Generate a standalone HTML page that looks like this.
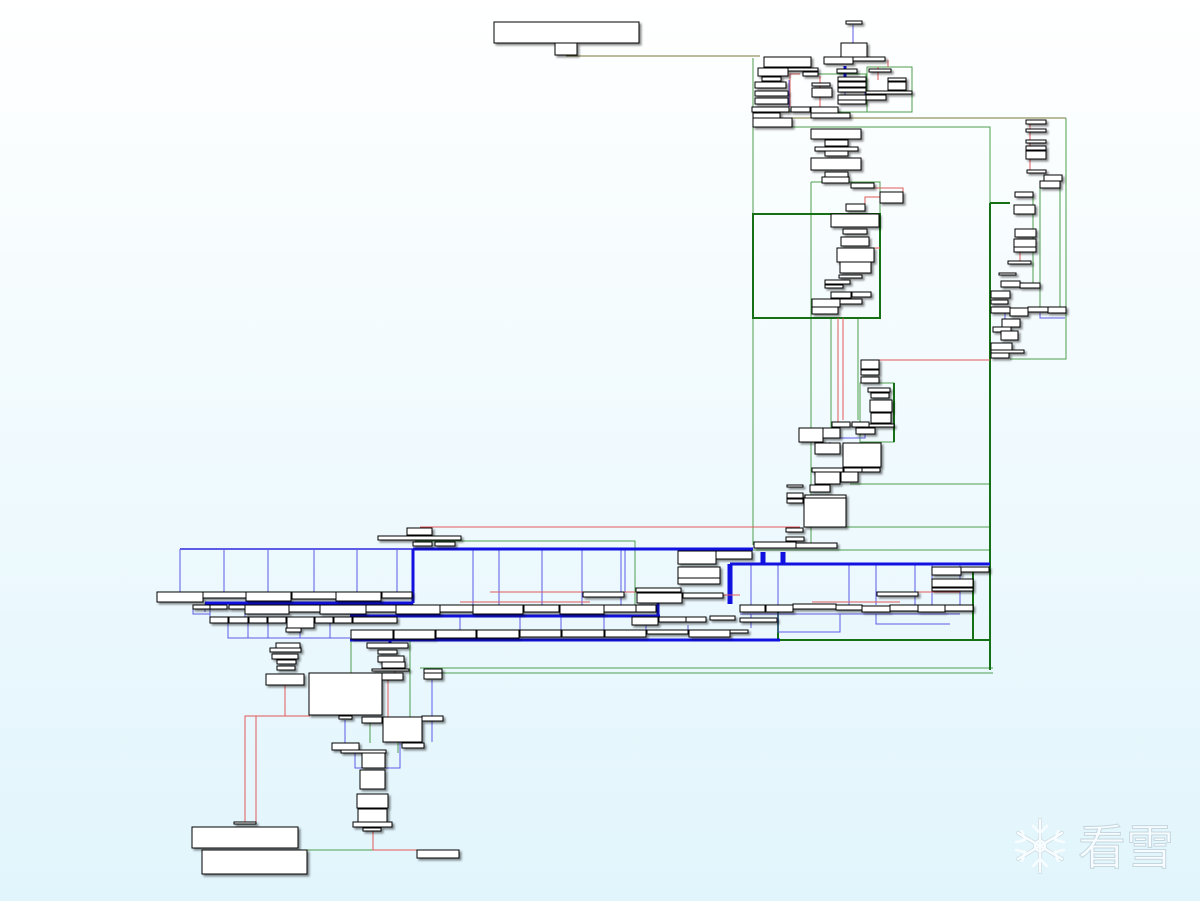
<!DOCTYPE html>
<html><head><meta charset="utf-8">
<style>
html,body{margin:0;padding:0;}
body{width:1200px;height:901px;overflow:hidden;background:linear-gradient(180deg,#ffffff 0%,#f3fbfe 40%,#e1f5fc 100%);}
svg{position:absolute;left:0;top:0;}
.g{stroke:#4e9e4e;stroke-width:1;fill:none}
.dg{stroke:#167016;stroke-width:2;fill:none}
.bl{stroke:#5c5ce6;stroke-width:1;fill:none}
.bt{stroke:#1212e0;stroke-width:3;fill:none}
.r{stroke:#e25a5a;stroke-width:1;fill:none}
.o{stroke:#7a7a3a;stroke-width:1;fill:none}
.bx rect{fill:#fff;stroke:#000;stroke-width:1}
.wm{font-family:"Liberation Sans","Noto Sans CJK SC",sans-serif;font-size:48px;fill:#f6fcff;stroke:#c6d6de;stroke-width:1}
</style></head><body>
<svg width="1200" height="901" viewBox="0 0 1200 901" shape-rendering="crispEdges">
<g>
<path class="o" d="M566,56H760"/>
<path class="o" d="M753,118H1066"/>
<path class="g" d="M753,58V545"/>
<path class="g" d="M753,127H990V203"/>
<path class="g" d="M1066,118V359H1010"/>
<path class="g" d="M811,182H880V318"/>
<path class="g" d="M811,182V545"/>
<path class="g" d="M831,318V430M858,318V420"/>
<path class="g" d="M860,383H894V442H860Z"/>
<path class="g" d="M850,484H990M846,527H990M846,550H990M740,550H990"/>
<path class="g" d="M415,541H635V605"/>
<path class="g" d="M351,640V720M410,640V730M420,668H993M430,673H993"/>
<path class="g" d="M867,67H912V112H867ZM808,74H866V103M760,112H912"/>
<path class="g" d="M1040,181V307M1060,188V307M1033,197V283"/>
<path class="g" d="M307,850H373"/>
<path class="g" d="M370,720V743M398,742V753"/>
<path class="dg" d="M753,214H880V318H753Z"/>
<path class="dg" d="M990,203V670M990,203H1010"/>
<path class="dg" d="M778,640H990M973,567V640M778,605V640M894,383V442"/>
<path class="bl" d="M180,549H413" style="stroke-width:2"/>
<path class="bl" d="M180,549V592M224,549V592M268,549V592M314,549V592M357,549V592M397,549V592"/>
<path class="bl" d="M473,549V605M499,549V605M542,549V605M582,549V605M621,549V605M625,549V592"/>
<path class="bl" d="M751,565V605M778,565V605M849,565V605M876,565V605M915,565V605M932,565V605M960,565V605"/>
<path class="bl" d="M210,609V617M228,623V638H350M248,623V638M268,623V638M300,628V638M330,623V638"/>
<path class="bl" d="M193,609V614H210M740,614H960M751,614V628M778,614V632H840V614M876,614V624H950"/>
<path class="bl" d="M460,616V630M520,616V630M561,616V630M604,616V630M646,616V630M688,625V630"/>
<path class="bl" d="M789,80V110M845,77V104M865,77V104M853,25V43"/>
<path class="bl" d="M432,680V742M345,720V743M355,750V768H362M400,742V768H385"/>
<path class="bl" d="M1005,313V320M1040,313V318H1065"/>
<path class="bl" d="M830,442V448M865,432V438H840"/>
<path class="bl" d="M413,603V616M205,603V612M245,614V617"/>
<path class="bt" d="M413,549H753M413,549V603M205,603H413"/>
<path class="bt" d="M350,616H660M350,640H780M658,592V616"/>
<path class="bt" d="M730,564H990"/>
<path class="bt" d="M730,564V604" style="stroke-width:5"/>
<path class="bt" d="M763,552V565M783,552V565" style="stroke-width:5"/>
<path class="bt" d="M845,66V80M390,640V643"/>
<path class="r" d="M420,527H800"/>
<path class="r" d="M879,360H990"/>
<path class="r" d="M843,318V420M838,318V430"/>
<path class="r" d="M285,684V716H245V823M256,716V823M256,716H310"/>
<path class="r" d="M373,831V850H417"/>
<path class="r" d="M490,592H650M460,602H590M812,602H900M900,592H960M700,595H740"/>
<path class="r" d="M857,248H880M874,188H903V192M865,204V197H880"/>
<path class="r" d="M770,60V57M800,74H790V107M820,76V107M878,67V80M888,60V67M1030,124V170M1020,247V261"/>
<path class="r" d="M388,680V717M395,668V673"/>
</g>
<g class="bx" style="filter:drop-shadow(2px 2px 1px rgba(0,0,0,0.45))">
<rect x="494" y="22" width="145" height="21"/>
<rect x="555" y="43" width="22" height="12"/>
<rect x="846" y="21" width="16" height="3"/>
<rect x="841" y="43" width="26" height="14"/>
<rect x="764" y="57" width="47" height="10"/>
<rect x="824" y="57" width="29" height="7"/>
<rect x="853" y="57" width="32" height="4"/>
<rect x="758" y="68" width="30" height="8"/>
<rect x="788" y="68" width="30" height="3"/>
<rect x="803" y="72" width="15" height="4"/>
<rect x="837" y="69" width="20" height="4"/>
<rect x="869" y="69" width="22" height="3"/>
<rect x="762" y="77" width="19" height="4"/>
<rect x="755" y="82" width="31" height="6"/>
<rect x="755" y="91" width="33" height="5"/>
<rect x="755" y="98" width="33" height="6"/>
<rect x="752" y="107" width="37" height="5"/>
<rect x="753" y="113" width="27" height="5"/>
<rect x="753" y="118" width="39" height="9"/>
<rect x="838" y="77" width="28" height="4"/>
<rect x="838" y="82" width="28" height="5"/>
<rect x="838" y="88" width="28" height="4"/>
<rect x="838" y="95" width="28" height="5"/>
<rect x="838" y="100" width="28" height="4"/>
<rect x="812" y="83" width="18" height="3"/>
<rect x="812" y="88" width="20" height="9"/>
<rect x="791" y="107" width="19" height="5"/>
<rect x="811" y="107" width="27" height="6"/>
<rect x="811" y="113" width="39" height="5"/>
<rect x="888" y="78" width="18" height="3"/>
<rect x="888" y="82" width="18" height="8"/>
<rect x="866" y="91" width="46" height="3"/>
<rect x="866" y="95" width="20" height="5"/>
<rect x="811" y="129" width="50" height="10"/>
<rect x="825" y="140" width="23" height="6"/>
<rect x="815" y="147" width="43" height="4"/>
<rect x="825" y="151" width="23" height="5"/>
<rect x="811" y="158" width="50" height="12"/>
<rect x="825" y="172" width="23" height="5"/>
<rect x="822" y="177" width="27" height="6"/>
<rect x="851" y="183" width="23" height="5"/>
<rect x="880" y="192" width="23" height="11"/>
<rect x="846" y="204" width="19" height="7"/>
<rect x="831" y="214" width="48" height="13"/>
<rect x="843" y="229" width="24" height="5"/>
<rect x="841" y="237" width="28" height="9"/>
<rect x="837" y="248" width="37" height="14"/>
<rect x="840" y="262" width="31" height="11"/>
<rect x="839" y="275" width="23" height="3"/>
<rect x="825" y="280" width="25" height="4"/>
<rect x="825" y="285" width="18" height="3"/>
<rect x="831" y="292" width="20" height="6"/>
<rect x="852" y="292" width="19" height="5"/>
<rect x="812" y="299" width="28" height="8"/>
<rect x="840" y="299" width="22" height="5"/>
<rect x="812" y="307" width="26" height="7"/>
<rect x="1026" y="120" width="20" height="4"/>
<rect x="1026" y="129" width="20" height="3"/>
<rect x="1026" y="140" width="20" height="3"/>
<rect x="1026" y="146" width="20" height="4"/>
<rect x="1026" y="151" width="20" height="8"/>
<rect x="1027" y="170" width="19" height="3"/>
<rect x="1044" y="175" width="18" height="6"/>
<rect x="1040" y="181" width="20" height="7"/>
<rect x="1015" y="192" width="18" height="5"/>
<rect x="1014" y="205" width="21" height="9"/>
<rect x="1015" y="229" width="21" height="8"/>
<rect x="1014" y="239" width="22" height="8"/>
<rect x="1014" y="247" width="22" height="5"/>
<rect x="1008" y="261" width="23" height="3"/>
<rect x="999" y="273" width="17" height="2"/>
<rect x="1001" y="281" width="19" height="6"/>
<rect x="1020" y="283" width="20" height="5"/>
<rect x="991" y="291" width="19" height="7"/>
<rect x="991" y="300" width="17" height="4"/>
<rect x="991" y="307" width="19" height="6"/>
<rect x="1010" y="308" width="18" height="8"/>
<rect x="1028" y="307" width="20" height="5"/>
<rect x="1048" y="307" width="18" height="6"/>
<rect x="1002" y="319" width="18" height="8"/>
<rect x="993" y="327" width="18" height="5"/>
<rect x="1001" y="331" width="17" height="9"/>
<rect x="991" y="343" width="21" height="7"/>
<rect x="991" y="350" width="33" height="3"/>
<rect x="991" y="353" width="18" height="5"/>
<rect x="861" y="360" width="18" height="9"/>
<rect x="861" y="370" width="18" height="5"/>
<rect x="861" y="377" width="18" height="6"/>
<rect x="868" y="388" width="22" height="4"/>
<rect x="871" y="393" width="18" height="5"/>
<rect x="870" y="400" width="22" height="12"/>
<rect x="871" y="413" width="20" height="10"/>
<rect x="862" y="424" width="32" height="3"/>
<rect x="832" y="422" width="18" height="5"/>
<rect x="852" y="422" width="17" height="5"/>
<rect x="856" y="428" width="19" height="6"/>
<rect x="799" y="428" width="24" height="14"/>
<rect x="823" y="428" width="17" height="10"/>
<rect x="815" y="443" width="25" height="11"/>
<rect x="843" y="443" width="38" height="24"/>
<rect x="812" y="468" width="31" height="4"/>
<rect x="844" y="468" width="18" height="4"/>
<rect x="862" y="468" width="18" height="4"/>
<rect x="815" y="472" width="25" height="12"/>
<rect x="841" y="472" width="17" height="10"/>
<rect x="787" y="485" width="16" height="2"/>
<rect x="810" y="485" width="20" height="7"/>
<rect x="787" y="493" width="16" height="5"/>
<rect x="805" y="495" width="41" height="3"/>
<rect x="787" y="499" width="16" height="4"/>
<rect x="804" y="498" width="42" height="29"/>
<rect x="786" y="528" width="17" height="4"/>
<rect x="786" y="537" width="18" height="4"/>
<rect x="754" y="542" width="42" height="6"/>
<rect x="796" y="543" width="41" height="5"/>
<rect x="407" y="528" width="25" height="7"/>
<rect x="378" y="536" width="83" height="4"/>
<rect x="413" y="542" width="19" height="4"/>
<rect x="435" y="542" width="20" height="4"/>
<rect x="157" y="592" width="46" height="10"/>
<rect x="203" y="592" width="43" height="6"/>
<rect x="246" y="592" width="45" height="9"/>
<rect x="292" y="592" width="44" height="7"/>
<rect x="336" y="592" width="45" height="9"/>
<rect x="382" y="592" width="30" height="6"/>
<rect x="193" y="605" width="17" height="4"/>
<rect x="210" y="605" width="17" height="4"/>
<rect x="229" y="605" width="16" height="4"/>
<rect x="245" y="605" width="44" height="9"/>
<rect x="289" y="605" width="31" height="7"/>
<rect x="320" y="605" width="46" height="9"/>
<rect x="366" y="605" width="30" height="7"/>
<rect x="396" y="605" width="44" height="9"/>
<rect x="440" y="605" width="33" height="7"/>
<rect x="473" y="605" width="50" height="9"/>
<rect x="524" y="605" width="35" height="7"/>
<rect x="560" y="605" width="44" height="9"/>
<rect x="604" y="605" width="32" height="7"/>
<rect x="636" y="605" width="20" height="7"/>
<rect x="210" y="617" width="18" height="6"/>
<rect x="229" y="617" width="19" height="6"/>
<rect x="249" y="617" width="18" height="6"/>
<rect x="268" y="617" width="18" height="6"/>
<rect x="287" y="617" width="27" height="11"/>
<rect x="315" y="617" width="18" height="6"/>
<rect x="334" y="617" width="18" height="6"/>
<rect x="353" y="617" width="44" height="6"/>
<rect x="286" y="628" width="15" height="4"/>
<rect x="351" y="630" width="42" height="9"/>
<rect x="394" y="630" width="41" height="9"/>
<rect x="436" y="630" width="40" height="8"/>
<rect x="477" y="630" width="42" height="8"/>
<rect x="520" y="630" width="41" height="7"/>
<rect x="562" y="630" width="42" height="7"/>
<rect x="605" y="630" width="41" height="7"/>
<rect x="647" y="630" width="41" height="4"/>
<rect x="689" y="630" width="41" height="7"/>
<rect x="730" y="630" width="18" height="3"/>
<rect x="583" y="592" width="41" height="5"/>
<rect x="636" y="588" width="45" height="4"/>
<rect x="637" y="593" width="45" height="10"/>
<rect x="683" y="593" width="40" height="5"/>
<rect x="678" y="551" width="38" height="13"/>
<rect x="716" y="551" width="36" height="8"/>
<rect x="678" y="567" width="42" height="11"/>
<rect x="678" y="578" width="42" height="6"/>
<rect x="632" y="617" width="26" height="8"/>
<rect x="659" y="617" width="27" height="5"/>
<rect x="686" y="617" width="20" height="5"/>
<rect x="710" y="616" width="25" height="4"/>
<rect x="740" y="618" width="37" height="4"/>
<rect x="740" y="605" width="25" height="7"/>
<rect x="766" y="605" width="27" height="7"/>
<rect x="793" y="604" width="43" height="5"/>
<rect x="836" y="605" width="26" height="5"/>
<rect x="862" y="606" width="28" height="6"/>
<rect x="890" y="605" width="28" height="6"/>
<rect x="918" y="605" width="27" height="7"/>
<rect x="945" y="605" width="28" height="6"/>
<rect x="877" y="592" width="41" height="4"/>
<rect x="932" y="567" width="29" height="8"/>
<rect x="961" y="567" width="28" height="5"/>
<rect x="932" y="579" width="41" height="8"/>
<rect x="932" y="588" width="41" height="3"/>
<rect x="276" y="643" width="24" height="5"/>
<rect x="270" y="648" width="31" height="4"/>
<rect x="272" y="654" width="26" height="5"/>
<rect x="277" y="660" width="19" height="4"/>
<rect x="277" y="666" width="18" height="4"/>
<rect x="266" y="674" width="38" height="11"/>
<rect x="367" y="643" width="41" height="5"/>
<rect x="378" y="650" width="19" height="4"/>
<rect x="378" y="656" width="26" height="6"/>
<rect x="382" y="662" width="23" height="6"/>
<rect x="372" y="669" width="37" height="2"/>
<rect x="382" y="673" width="21" height="7"/>
<rect x="309" y="673" width="73" height="42"/>
<rect x="424" y="669" width="18" height="4"/>
<rect x="424" y="673" width="18" height="6"/>
<rect x="339" y="716" width="13" height="3"/>
<rect x="362" y="717" width="20" height="6"/>
<rect x="383" y="717" width="39" height="25"/>
<rect x="422" y="716" width="21" height="5"/>
<rect x="332" y="743" width="27" height="7"/>
<rect x="341" y="750" width="45" height="3"/>
<rect x="402" y="743" width="22" height="5"/>
<rect x="362" y="753" width="23" height="15"/>
<rect x="360" y="770" width="25" height="19"/>
<rect x="357" y="794" width="31" height="14"/>
<rect x="358" y="809" width="29" height="13"/>
<rect x="353" y="822" width="39" height="5"/>
<rect x="363" y="828" width="18" height="3"/>
<rect x="234" y="822" width="22" height="2"/>
<rect x="192" y="827" width="106" height="21"/>
<rect x="202" y="850" width="105" height="24"/>
<rect x="417" y="850" width="42" height="8"/>
</g>
<g shape-rendering="auto" fill="none" stroke-linecap="round">
<g stroke="#cddbe2" stroke-width="4">
<path d="M1040,820V872M1018,833L1062,859M1018,859L1062,833"/>
<circle cx="1040" cy="846" r="5"/>
</g>
<g stroke="#f7fcff" stroke-width="2.5">
<path d="M1040,820V872M1018,833L1062,859M1018,859L1062,833"/>
<path d="M1033,826L1040,833L1047,826M1033,866L1040,859L1047,866M1016,842L1025,840L1022,831M1064,842L1055,840L1058,831M1016,850L1025,852L1022,861M1064,850L1055,852L1058,861"/>
<circle cx="1040" cy="846" r="5"/>
</g>
</g>
<text x="1078" y="864" class="wm" shape-rendering="auto">看雪</text>
</svg>
</body></html>
